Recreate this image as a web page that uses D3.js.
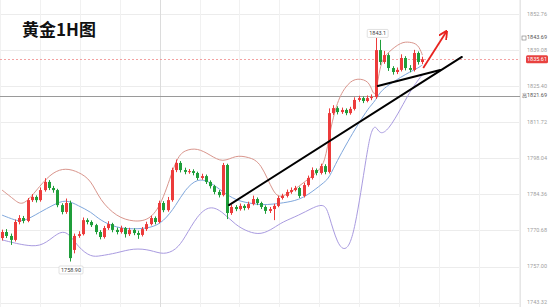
<!DOCTYPE html>
<html><head><meta charset="utf-8">
<script src="https://cdn.jsdelivr.net/npm/d3@7"></script>
<style>body{margin:0;background:#fff;overflow:hidden} svg{display:block}</style>
</head><body><svg id="c" width="550" height="307"></svg>
<script>
const opens=[1767.8,1770.1,1768.6,1767.1,1773.9,1775.4,1774.3,1782.2,1783.4,1782.2,1786.0,1789.1,1786.8,1786.0,1780.3,1777.7,1781.1,1763.3,1768.6,1769.3,1774.6,1773.9,1772.7,1770.1,1768.2,1771.6,1773.1,1770.9,1770.1,1771.6,1769.3,1770.9,1769.7,1769.0,1771.2,1773.1,1775.4,1773.9,1781.1,1778.4,1782.2,1793.6,1796.3,1793.6,1792.9,1793.2,1792.5,1790.6,1791.3,1789.1,1787.5,1785.3,1784.1,1795.5,1777.3,1779.6,1778.8,1780.0,1779.2,1780.7,1782.6,1781.1,1779.6,1778.1,1778.8,1780.0,1783.0,1783.8,1785.3,1786.0,1786.8,1783.8,1787.9,1790.6,1793.6,1792.5,1795.1,1792.9,1815.2,1817.1,1815.6,1816.4,1815.2,1816.8,1820.2,1820.9,1819.8,1820.9,1821.3,1839.1,1834.6,1837.2,1832.3,1830.8,1831.6,1836.1,1832.3,1831.6,1838.0,1834.6];
const closes=[1770.1,1768.6,1767.1,1773.9,1775.4,1774.3,1782.2,1783.4,1782.2,1786.0,1789.1,1786.8,1786.0,1780.3,1777.7,1781.1,1760.2,1768.6,1769.3,1774.6,1773.9,1772.7,1770.1,1768.2,1771.6,1773.1,1770.9,1770.1,1771.6,1769.3,1770.9,1769.7,1769.0,1771.2,1773.1,1775.4,1773.9,1781.1,1778.4,1782.2,1793.6,1796.3,1793.6,1792.9,1793.2,1792.5,1790.6,1791.3,1789.1,1787.5,1785.3,1784.1,1795.5,1777.3,1779.6,1778.8,1780.0,1779.2,1780.7,1782.6,1781.1,1779.6,1778.1,1778.8,1780.0,1783.0,1783.8,1785.3,1786.0,1786.8,1783.8,1787.9,1790.6,1793.6,1792.5,1795.1,1792.9,1815.2,1817.1,1815.6,1816.4,1815.2,1816.8,1820.2,1820.9,1819.8,1820.9,1821.3,1839.1,1834.6,1837.2,1832.3,1830.8,1831.6,1836.1,1832.3,1831.6,1838.0,1834.6,1835.61];
const highs=[1771.0,1771.2,1769.5,1774.8,1776.5,1776.2,1783.0,1784.5,1784.0,1787.0,1790.5,1789.8,1787.6,1786.5,1781.0,1782.8,1782.0,1769.5,1770.4,1775.6,1775.3,1774.5,1773.2,1770.8,1772.4,1774.2,1773.6,1771.8,1772.5,1772.0,1771.7,1771.5,1770.6,1772.0,1774.0,1776.3,1776.0,1782.0,1781.8,1783.4,1794.5,1797.6,1797.0,1794.5,1794.0,1793.9,1793.0,1792.2,1791.9,1789.7,1788.0,1786.0,1796.3,1796.0,1780.5,1780.3,1780.9,1780.6,1781.6,1783.9,1783.2,1781.6,1780.2,1779.6,1780.8,1783.8,1784.6,1786.2,1787.0,1787.6,1787.3,1788.8,1791.5,1794.6,1794.2,1796.0,1795.8,1817.0,1818.2,1817.8,1817.3,1817.0,1817.6,1821.2,1821.8,1821.5,1821.9,1822.3,1843.69,1843.0,1838.8,1837.9,1833.0,1832.5,1837.5,1836.8,1833.4,1839.2,1838.6,1836.6];
const lows=[1766.9,1767.8,1765.2,1766.5,1773.0,1773.4,1773.8,1781.5,1781.3,1781.6,1785.4,1786.0,1785.0,1779.5,1776.8,1777.0,1758.9,1762.0,1767.9,1768.8,1773.0,1772.0,1769.2,1767.3,1767.6,1770.9,1770.0,1769.2,1769.5,1768.0,1768.6,1768.9,1767.5,1768.4,1770.5,1772.6,1773.0,1773.4,1777.6,1777.8,1781.6,1792.8,1792.7,1792.0,1792.2,1791.6,1789.8,1789.9,1788.3,1786.6,1784.4,1783.2,1783.6,1775.0,1776.6,1778.0,1778.2,1778.3,1778.6,1780.2,1780.3,1778.8,1777.0,1777.3,1774.6,1779.5,1782.4,1783.2,1784.6,1785.5,1783.0,1783.2,1787.3,1790.0,1791.6,1791.9,1792.0,1792.3,1814.5,1814.7,1814.9,1814.4,1814.6,1816.2,1819.5,1819.0,1819.3,1820.1,1820.6,1833.5,1833.9,1831.2,1829.8,1830.0,1831.0,1831.4,1830.7,1831.0,1833.6,1833.8];

const bandIdx=[0,3,5,9,12,15,18,21,23,27,31,35,38,41,43,46,49,52,55,58,61,64,66,70,73,76,77,79,81,83,86,87,88,89,91,94,96,98,99];
const upper=[1786.0,1782.2,1779.6,1787.9,1792.9,1794.4,1792.9,1789.8,1782.2,1775.8,1773.9,1774.6,1782.2,1798.2,1801.2,1802.0,1799.3,1796.3,1799.3,1798.5,1796.7,1784.1,1783.0,1787.5,1791.3,1795.1,1806.9,1820.2,1825.5,1828.5,1827.8,1824.7,1820.2,1834.6,1838.4,1842.2,1842.2,1841.4,1837.2];
const middle=[1776.5,1774.6,1773.9,1777.7,1780.3,1782.6,1780.0,1777.7,1774.6,1771.6,1771.2,1771.6,1773.9,1780.3,1786.0,1790.6,1789.1,1785.3,1782.2,1781.1,1780.3,1780.7,1781.1,1782.2,1785.3,1789.1,1790.6,1797.4,1803.1,1808.8,1816.4,1818.3,1820.2,1823.2,1825.9,1828.9,1830.8,1832.3,1833.5];
const lower=[1767.1,1765.9,1765.2,1764.4,1768.2,1771.6,1764.0,1760.6,1761.0,1762.1,1764.0,1763.3,1761.4,1763.3,1767.8,1776.5,1780.3,1777.7,1772.7,1770.1,1769.0,1771.6,1773.9,1776.5,1779.2,1781.1,1776.5,1765.2,1762.5,1769.0,1801.2,1808.8,1810.7,1806.9,1808.8,1817.1,1823.2,1827.8,1829.7];

const tickValues=[1852.76,1839.08,1825.40,1811.72,1798.04,1784.36,1770.68,1757.00,1743.32];
const lastPrice=1835.61, refPrice=1821.69, highMark=1843.69;
const trendLines=[[53.45,1780.33,108.3,1836.5],[88.5,1825.48,103.2,1831.55]];
const arrowLine=[99.2,1832.3,104.6,1845.97];
const title="黄金1H图";

const svg=d3.select("#c");
const W=550,H=307,plotR=520;
const x=d3.scaleLinear().domain([0,99]).range([2.1,422.4]);
const y=d3.scaleLinear().domain([1741.65,1858.11]).range([307,0]);
const fmt=d3.format(".2f");

// grid
const g=svg.append("g");
g.selectAll(".hg").data(tickValues).join("line")
 .attr("x1",0).attr("x2",plotR).attr("y1",d=>Math.round(y(d))+0.5).attr("y2",d=>Math.round(y(d))+0.5)
 .attr("stroke","#ececec").attr("stroke-width",1);
const vTicks=d3.range(-0.5,122,9.4);
g.selectAll(".vg").data(vTicks).join("line")
 .attr("x1",d=>Math.round(x(d))+0.5).attr("x2",d=>Math.round(x(d))+0.5).attr("y1",0).attr("y2",H)
 .attr("stroke","#f1f1f1").attr("stroke-width",1);
// separator lines
svg.append("line").attr("x1",Math.round(x(37.2))+0.5).attr("x2",Math.round(x(37.2))+0.5).attr("y1",0).attr("y2",H).attr("stroke","#dcdcdc");
svg.append("line").attr("x1",plotR+0.5).attr("x2",plotR+0.5).attr("y1",0).attr("y2",H).attr("stroke","#e6e6e6");

// reference lines
svg.append("line").attr("x1",0).attr("x2",plotR).attr("y1",Math.round(y(refPrice))+0.5).attr("y2",Math.round(y(refPrice))+0.5).attr("stroke","#9a9a9a").attr("stroke-width",1);
svg.append("line").attr("x1",0).attr("x2",plotR).attr("y1",Math.round(y(lastPrice))+0.5).attr("y2",Math.round(y(lastPrice))+0.5).attr("stroke","#f08a8a").attr("stroke-width",0.8).attr("stroke-dasharray","2,2");

// bands
const bandLine=arr=>d3.line().x((d,i)=>x(bandIdx[i])).y((d,i)=>y(arr[i])).curve(d3.curveBasis)(arr);
svg.append("path").attr("d",bandLine(upper)).attr("fill","none").attr("stroke","#d9958c").attr("stroke-width",1);
svg.append("path").attr("d",bandLine(middle)).attr("fill","none").attr("stroke","#7fa7dc").attr("stroke-width",1);
svg.append("path").attr("d",bandLine(lower)).attr("fill","none").attr("stroke","#a99be0").attr("stroke-width",1);

// candles
const idx=d3.range(closes.length);
const up="#ec3b3b", dn="#1f9e3a";
const cg=svg.append("g");
cg.selectAll(".w").data(idx).join("line")
 .attr("x1",i=>Math.round(x(i))+0.5).attr("x2",i=>Math.round(x(i))+0.5)
 .attr("y1",i=>y(highs[i])).attr("y2",i=>y(lows[i]))
 .attr("stroke",i=>closes[i]>=opens[i]?up:dn).attr("stroke-width",1);
cg.selectAll(".b").data(idx).join("rect")
 .attr("x",i=>Math.round(x(i))-1).attr("width",3)
 .attr("y",i=>y(Math.max(opens[i],closes[i])))
 .attr("height",i=>Math.max(1,Math.abs(y(opens[i])-y(closes[i]))))
 .attr("fill",i=>closes[i]>=opens[i]?up:dn);

// trend lines
svg.selectAll(".tl").data(trendLines).join("line")
 .attr("x1",d=>x(d[0])).attr("y1",d=>y(d[1])).attr("x2",d=>x(d[2])).attr("y2",d=>y(d[3]))
 .attr("stroke","#000").attr("stroke-width",2).attr("stroke-linecap","round");
// arrow
const defs=svg.append("defs");
defs.append("marker").attr("id","ah").attr("viewBox","0 0 10 10").attr("refX",8).attr("refY",5)
 .attr("markerWidth",5).attr("markerHeight",5).attr("orient","auto")
 .append("path").attr("d","M0,0 L10,5 L0,10").attr("fill","none").attr("stroke","#e8231f").attr("stroke-width",2);
svg.append("line").attr("x1",x(arrowLine[0])).attr("y1",y(arrowLine[1])).attr("x2",x(arrowLine[2])).attr("y2",y(arrowLine[3]))
 .attr("stroke","#e8231f").attr("stroke-width",1.8).attr("marker-end","url(#ah)");

// high / low labels
const hiI=d3.maxIndex(highs), loI=d3.minIndex(lows);
function tag(cx,cy,txt){
  const t=svg.append("text").attr("x",cx).attr("y",cy).attr("text-anchor","middle").attr("dominant-baseline","middle")
   .attr("font-family","Roboto, sans-serif").attr("font-size",5.5).attr("fill","#444").text(txt);
  const bb=t.node().getBBox();
  svg.insert("rect","text:last-of-type").attr("x",bb.x-2).attr("y",bb.y-1).attr("width",bb.width+4).attr("height",bb.height+2)
   .attr("fill","#fff").attr("stroke","#ccc").attr("stroke-width",0.6).attr("rx",1);
}
tag(x(hiI)+2,y(highs[hiI])-4,d3.format(".1f")(highs[hiI]-0.59));
tag(x(loI)+1,y(lows[loI])+9,fmt(lows[loI]));

// axis labels
const ax=svg.append("g").attr("font-family","Roboto, sans-serif").attr("font-size",5.5);
ax.selectAll(".tk").data(tickValues).join("text")
 .attr("x",547).attr("y",d=>y(d)).attr("text-anchor","end").attr("dominant-baseline","middle")
 .attr("fill","#a0a0a0").text(d=>fmt(d));
// high mark label
ax.append("rect").attr("x",522).attr("y",y(highMark)-2).attr("width",4).attr("height",4).attr("fill","none").attr("stroke","#777").attr("stroke-width",0.6);
ax.append("text").attr("x",547).attr("y",y(highMark)).attr("text-anchor","end").attr("dominant-baseline","middle").attr("fill","#555").text(fmt(highMark));
// ref label
ax.append("text").attr("x",522).attr("y",y(refPrice)).attr("dominant-baseline","middle").attr("fill","#555").attr("font-family","'Noto Sans CJK SC'").attr("font-size",5).text("高");
ax.append("text").attr("x",547).attr("y",y(refPrice)).attr("text-anchor","end").attr("dominant-baseline","middle").attr("fill","#555").text(fmt(refPrice));
// last price box
ax.append("rect").attr("x",526).attr("y",y(lastPrice)-4).attr("width",22).attr("height",8).attr("rx",1.5).attr("fill","#e8423f");
ax.append("text").attr("x",537).attr("y",y(lastPrice)+0.3).attr("text-anchor","middle").attr("dominant-baseline","middle").attr("fill","#fff").text(fmt(lastPrice));

// title
svg.append("text").attr("x",22).attr("y",36).attr("font-family","'Noto Sans CJK SC', sans-serif").attr("font-weight","bold")
 .attr("font-size",17).attr("fill","#111").text(title);
</script></body></html>
